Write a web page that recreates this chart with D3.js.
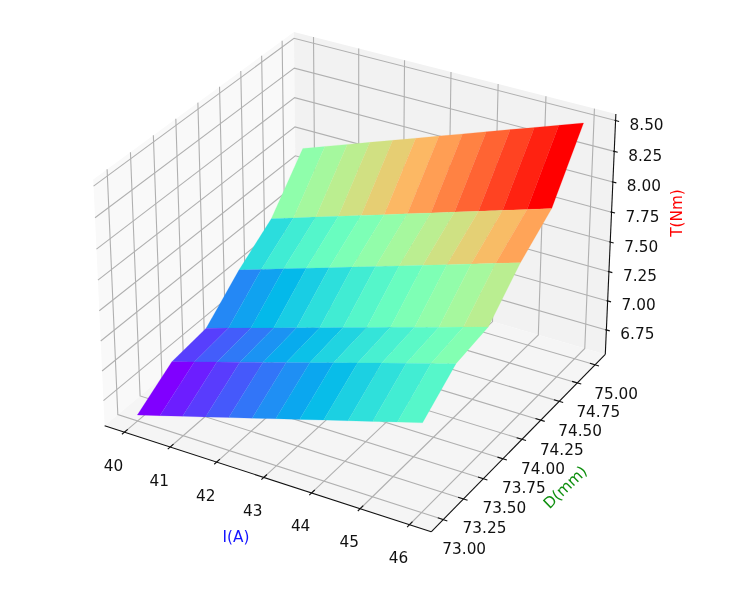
<!DOCTYPE html>
<html>
<head>
<meta charset="utf-8">
<script src="https://cdn.jsdelivr.net/npm/d3@7"></script>
<style>
  body { margin: 0; background: #fff; }
  svg { filter: blur(0.35px); }
  text { font-family: "DejaVu Sans", sans-serif; font-size: 15.3px; fill: #111; }
</style>
</head>
<body>
<div id="chart"></div>
<script>
const currents = [40, 40.5, 41, 41.5, 42, 42.5, 43, 43.5, 44, 44.5, 45, 45.5, 46]
const diameters = [73, 73.4, 73.8, 74.2, 74.6, 75]
const torque = [
  [6.588, 6.645, 6.702, 6.759, 6.816, 6.873, 6.931, 6.988, 7.045, 7.102, 7.159, 7.216, 7.273],
  [6.789, 6.848, 6.907, 6.966, 7.024, 7.083, 7.142, 7.201, 7.260, 7.319, 7.377, 7.436, 7.495],
  [6.830, 6.890, 6.949, 7.009, 7.068, 7.128, 7.188, 7.247, 7.307, 7.366, 7.426, 7.485, 7.545],
  [7.092, 7.153, 7.215, 7.276, 7.337, 7.399, 7.460, 7.521, 7.583, 7.644, 7.705, 7.767, 7.828],
  [7.304, 7.365, 7.427, 7.488, 7.549, 7.610, 7.672, 7.733, 7.794, 7.855, 7.917, 7.978, 8.039],
  [7.687, 7.756, 7.825, 7.894, 7.963, 8.031, 8.100, 8.169, 8.238, 8.307, 8.375, 8.444, 8.513]
]
const xTicks = [40, 41, 42, 43, 44, 45, 46]
const yTicks = [73, 73.25, 73.5, 73.75, 74, 74.25, 74.5, 74.75, 75]
const zTicks = [6.75, 7, 7.25, 7.5, 7.75, 8, 8.25, 8.5]

const width = 755
const height = 602

// pane limits, a bit wider than the data like mplot3d does
const xLim = [39.5625, 46.4375]
const yLim = [72.854, 75.146]
const zLim = [6.537, 8.552]

// box 4:4:3 centred on the origin
const x = d3.scaleLinear().domain(xLim).range([-0.5714, 0.5714])
const y = d3.scaleLinear().domain(yLim).range([-0.5714, 0.5714])
const z = d3.scaleLinear().domain(zLim).range([-0.4286, 0.4286])

// elev 30, azim -60, dist 10
const dist = 10
const u = [0.866, 0.5, 0]
const v = [-0.25, 0.433, 0.866]
const w = [0.433, -0.75, 0.5]
const dot = (a, b) => a[0] * b[0] + a[1] * b[1] + a[2] * b[2]

const px = d3.scaleLinear().domain([-1, 1]).range([359.4 - 327.5, 359.4 + 327.5])
const py = d3.scaleLinear().domain([-1, 1]).range([270.4 + 327.5, 270.4 - 327.5])

function project(d) {
  const p = [x(d[0]), y(d[1]), z(d[2])]
  const depth = dist - dot(w, p)
  return {
    x: px(dot(u, p) * dist / depth),
    y: py(dot(v, p) * dist / depth),
    depth: depth
  }
}

const line3d = d3.line().x(d => project(d).x).y(d => project(d).y)
const closed3d = pts => line3d(pts) + "Z"

const rainbow = t => d3.rgb(
  255 * Math.abs(2 * t - 0.5) > 255 ? 255 : 255 * Math.abs(2 * t - 0.5),
  255 * Math.sin(Math.PI * t),
  255 * Math.cos(Math.PI * t / 2)
)

const svg = d3.select("#chart").append("svg")
  .attr("width", width)
  .attr("height", height)
  .attr("viewBox", [0, 0, width, height])

// panes
const panes = [
  { fill: "#f9f9f9", pts: [[xLim[0], yLim[0], zLim[0]], [xLim[0], yLim[1], zLim[0]], [xLim[0], yLim[1], zLim[1]], [xLim[0], yLim[0], zLim[1]]] },
  { fill: "#f2f2f2", pts: [[xLim[0], yLim[1], zLim[0]], [xLim[1], yLim[1], zLim[0]], [xLim[1], yLim[1], zLim[1]], [xLim[0], yLim[1], zLim[1]]] },
  { fill: "#f5f5f5", pts: [[xLim[0], yLim[0], zLim[0]], [xLim[1], yLim[0], zLim[0]], [xLim[1], yLim[1], zLim[0]], [xLim[0], yLim[1], zLim[0]]] }
]

svg.append("g").selectAll("path")
  .data(panes)
  .join("path")
    .attr("fill", d => d.fill)
    .attr("d", d => closed3d(d.pts))

// grid
const gridLines = [
  ...xTicks.map(t => [[t, yLim[0], zLim[0]], [t, yLim[1], zLim[0]], [t, yLim[1], zLim[1]]]),
  ...yTicks.map(t => [[xLim[1], t, zLim[0]], [xLim[0], t, zLim[0]], [xLim[0], t, zLim[1]]]),
  ...zTicks.map(t => [[xLim[0], yLim[0], t], [xLim[0], yLim[1], t], [xLim[1], yLim[1], t]])
]

svg.append("g").selectAll("path")
  .data(gridLines)
  .join("path")
    .attr("fill", "none")
    .attr("stroke", "#b0b0b0")
    .attr("stroke-width", 1.1)
    .attr("d", line3d)

// axis lines
const axisLines = [
  [[xLim[0], yLim[0], zLim[0]], [xLim[1], yLim[0], zLim[0]]],
  [[xLim[1], yLim[0], zLim[0]], [xLim[1], yLim[1], zLim[0]]],
  [[xLim[1], yLim[1], zLim[0]], [xLim[1], yLim[1], zLim[1]]]
]

svg.append("g").selectAll("path")
  .data(axisLines)
  .join("path")
    .attr("fill", "none")
    .attr("stroke", "#111")
    .attr("stroke-width", 1.1)
    .attr("d", line3d)

// tick marks and labels
const yStep = (yLim[1] - yLim[0]) / 12.5
const xStep = (xLim[1] - xLim[0]) / 12.5
const axes = [
  {
    ticks: xTicks,
    format: d3.format("d"),
    at: t => [t, yLim[0], zLim[0]],
    mark: t => [[t, yLim[0] - 0.15 * yStep, zLim[0]], [t, yLim[0] + 0.2 * yStep, zLim[0]]],
    dx: -11,
    dy: 33
  },
  {
    ticks: yTicks,
    format: d3.format(".2f"),
    at: t => [xLim[1], t, zLim[0]],
    mark: t => [[xLim[1] + 0.15 * xStep, t, zLim[0]], [xLim[1] - 0.2 * xStep, t, zLim[0]]],
    dx: 21,
    dy: 29
  },
  {
    ticks: zTicks,
    format: d3.format(".2f"),
    at: t => [xLim[1], yLim[1], t],
    mark: t => [[xLim[1] + 0.13 * xStep, yLim[1], t], [xLim[1] - 0.04 * xStep, yLim[1], t]],
    dx: 31,
    dy: 4
  }
]

axes.forEach(axis => {
  const g = svg.append("g")
  g.selectAll("path")
    .data(axis.ticks)
    .join("path")
      .attr("fill", "none")
      .attr("stroke", "#111")
      .attr("stroke-width", 1.1)
      .attr("d", t => line3d(axis.mark(t)))
  g.selectAll("text")
    .data(axis.ticks)
    .join("text")
      .attr("text-anchor", "middle")
      .attr("dy", "0.36em")
      .attr("x", t => project(axis.at(t)).x + axis.dx)
      .attr("y", t => project(axis.at(t)).y + axis.dy)
      .text(axis.format)
})

// surface, one flat coloured cell per grid square, far ones first
const cells = []
d3.range(diameters.length - 1).forEach(j => {
  d3.range(currents.length - 1).forEach(i => {
    const pts = [
      [currents[i], diameters[j], torque[j][i]],
      [currents[i + 1], diameters[j], torque[j][i + 1]],
      [currents[i + 1], diameters[j + 1], torque[j + 1][i + 1]],
      [currents[i], diameters[j + 1], torque[j + 1][i]]
    ]
    cells.push({
      pts: pts,
      value: d3.mean(pts, d => d[2]),
      depth: d3.mean(pts, d => project(d).depth)
    })
  })
})
cells.sort((a, b) => d3.descending(a.depth, b.depth))

const color = d3.scaleSequential(rainbow).domain(d3.extent(cells, d => d.value))

svg.append("g").selectAll("path")
  .data(cells)
  .join("path")
    .attr("fill", d => color(d.value))
    .attr("stroke", d => color(d.value))
    .attr("stroke-width", 0.2)
    .attr("d", d => closed3d(d.pts))

// axis titles
const titles = [
  { text: "I(A)", color: "#1414ff", x: 236, y: 536, angle: 0 },
  { text: "D(mm)", color: "#0f8f0f", x: 565, y: 487, angle: -44 },
  { text: "T(Nm)", color: "red", x: 676, y: 213, angle: -90 }
]

svg.append("g").selectAll("text")
  .data(titles)
  .join("text")
    .attr("text-anchor", "middle")
    .attr("dy", "0.36em")
    .attr("transform", d => `translate(${d.x},${d.y}) rotate(${d.angle})`)
    .style("fill", d => d.color)
    .text(d => d.text)
</script>
</body>
</html>
